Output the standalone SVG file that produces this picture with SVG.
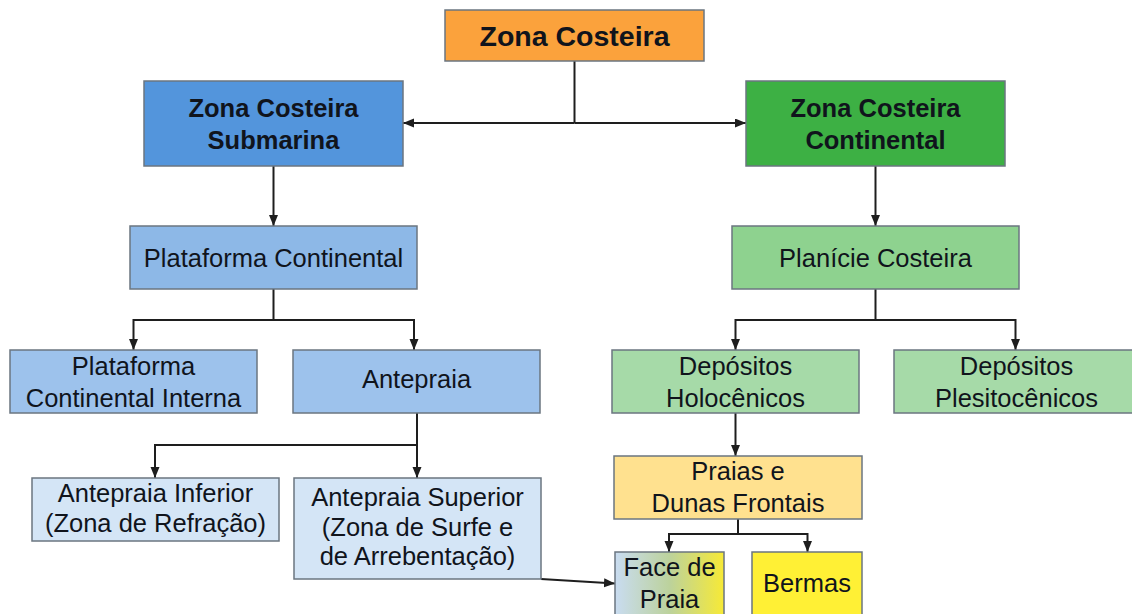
<svg xmlns="http://www.w3.org/2000/svg" width="1132" height="614" viewBox="0 0 1132 614">
<defs>
<marker id="arr" markerUnits="userSpaceOnUse" markerWidth="12" markerHeight="10" refX="11" refY="4.5" orient="auto">
<path d="M0,0 L11,4.5 L0,9 z" fill="#1e1e1e"/>
</marker>
<linearGradient id="faceGrad" x1="0" y1="0" x2="1" y2="0">
<stop offset="0" stop-color="#C9DCF1"/>
<stop offset="0.5" stop-color="#BCD29C"/>
<stop offset="1" stop-color="#F7EA36"/>
</linearGradient>
</defs>
<style>
rect.box { stroke: #6b7680; stroke-width: 1.5; }
text { font-family: "Liberation Sans", Arial, sans-serif; fill: #10141c; text-anchor: middle; font-size: 25.5px; }
text.b { font-weight: bold; font-size: 25.5px; }
.con path { fill: none; stroke: #1e1e1e; stroke-width: 2; }
</style>
<rect width="1132" height="614" fill="#ffffff"/>

<g class="con">
<path d="M574.5,61 V123"/>
<path d="M574.5,123 H403" marker-end="url(#arr)"/>
<path d="M574.5,123 H746" marker-end="url(#arr)"/>
<path d="M273.5,166 V226" marker-end="url(#arr)"/>
<path d="M875.5,166 V226" marker-end="url(#arr)"/>
<path d="M273.5,289 V320 H133.5 V350" marker-end="url(#arr)"/>
<path d="M273.5,320 H414 V350" marker-end="url(#arr)"/>
<path d="M875.5,289 V320 H735.5 V350" marker-end="url(#arr)"/>
<path d="M875.5,320 H1015.5 V350" marker-end="url(#arr)"/>
<path d="M417,413 V445 H155 V478" marker-end="url(#arr)"/>
<path d="M417,445 V478" marker-end="url(#arr)"/>
<path d="M735.5,413 V456" marker-end="url(#arr)"/>
<path d="M738,519 V534 H669 V552" marker-end="url(#arr)"/>
<path d="M738,534 H807.5 V552" marker-end="url(#arr)"/>
<path d="M541,579 L615,583.5" marker-end="url(#arr)"/>
</g>

<g id="zona-costeira">
<rect class="box" x="445" y="10" width="259" height="51" fill="#FBA23C"/>
<text class="b" x="574.5" y="46" style="font-size:28.5px">Zona Costeira</text>
</g>
<g id="submarina">
<rect class="box" x="144" y="81" width="259" height="85" fill="#5395DC"/>
<text class="b" x="273.5" y="117">Zona Costeira</text>
<text class="b" x="273.5" y="149">Submarina</text>
</g>
<g id="continental">
<rect class="box" x="746" y="81" width="259" height="85" fill="#3DB044"/>
<text class="b" x="875.5" y="117">Zona Costeira</text>
<text class="b" x="875.5" y="149">Continental</text>
</g>
<g id="plataforma">
<rect class="box" x="130" y="226" width="287" height="63" fill="#8DB8E7"/>
<text x="273.5" y="267">Plataforma Continental</text>
</g>
<g id="planicie">
<rect class="box" x="732" y="226" width="287" height="63" fill="#8ED28F"/>
<text x="875.5" y="267">Planície Costeira</text>
</g>
<g id="plataforma-interna">
<rect class="box" x="10" y="350" width="247" height="63" fill="#9DC2EC"/>
<text x="133.5" y="375">Plataforma</text>
<text x="133.5" y="407">Continental Interna</text>
</g>
<g id="antepraia">
<rect class="box" x="293" y="350" width="247" height="63" fill="#9DC2EC"/>
<text x="416.5" y="388">Antepraia</text>
</g>
<g id="antepraia-inferior">
<rect class="box" x="32" y="478" width="247" height="63" fill="#D4E5F6"/>
<text x="155.5" y="502">Antepraia Inferior</text>
<text x="155.5" y="532">(Zona de Refração)</text>
</g>
<g id="antepraia-superior">
<rect class="box" x="294" y="478" width="247" height="101" fill="#D4E5F6"/>
<text x="417.5" y="506">Antepraia Superior</text>
<text x="417.5" y="536">(Zona de Surfe e</text>
<text x="417.5" y="565">de Arrebentação)</text>
</g>
<g id="holocenicos">
<rect class="box" x="612" y="350" width="247" height="63" fill="#A6DAA8"/>
<text x="735.5" y="375">Depósitos</text>
<text x="735.5" y="407">Holocênicos</text>
</g>
<g id="plesitocenicos">
<rect class="box" x="894" y="350" width="247" height="63" fill="#A6DAA8"/>
<text x="1016.5" y="375">Depósitos</text>
<text x="1016.5" y="407">Plesitocênicos</text>
</g>
<g id="praias">
<rect class="box" x="614" y="456" width="248" height="63" fill="#FFE18F"/>
<text x="738" y="480">Praias e</text>
<text x="738" y="512">Dunas Frontais</text>
</g>
<g id="face-de-praia">
<rect class="box" x="615" y="552" width="109" height="70" fill="url(#faceGrad)"/>
<text x="669.5" y="576">Face de</text>
<text x="669.5" y="608">Praia</text>
</g>
<g id="bermas">
<rect class="box" x="752" y="552" width="110" height="70" fill="#FFF035"/>
<text x="807" y="592">Bermas</text>
</g>
</svg>
